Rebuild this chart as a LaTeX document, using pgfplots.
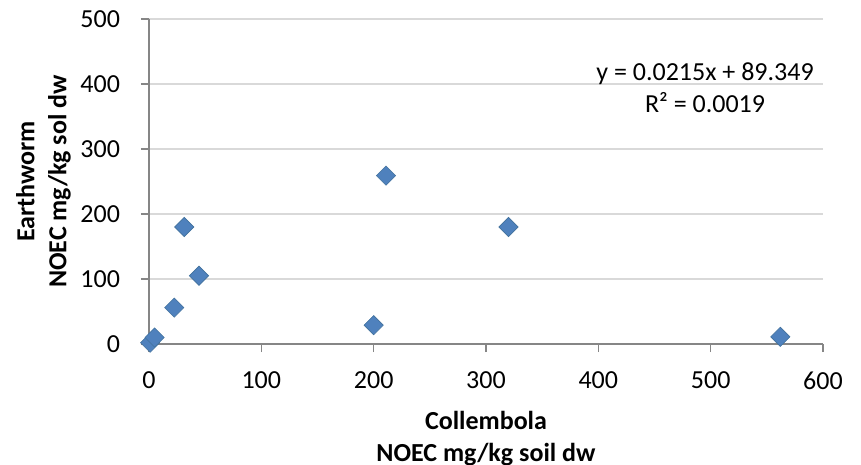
\documentclass[border=0pt]{standalone}
\usepackage{pgfplots}
\pgfplotsset{compat=1.18}
\usepackage{fontspec}
\setmainfont{Carlito}
\definecolor{mk}{HTML}{4F81BD}
\definecolor{mkedge}{HTML}{41719C}
\definecolor{gridc}{HTML}{D9D9D9}
\definecolor{axc}{HTML}{868686}
\begin{document}
\begin{tikzpicture}
\useasboundingbox (-74.5pt,-60.5pt) rectangle (356pt,172pt);
\begin{axis}[
  at={(0,0)}, anchor=south west,
  scale only axis,
  width=337pt, height=162.5pt,
  xmin=0, xmax=600, ymin=0, ymax=500,
  xtick={0,100,...,600}, ytick={0,100,...,500},
  axis x line*=bottom, axis y line*=left,
  axis line style={axc, line width=0.8pt},
  tick style={axc, line width=0.8pt},
  tick align=outside, major tick length=4pt,
  ymajorgrids, grid style={gridc, line width=0.8pt},
  tick label style={font=\fontsize{13}{16}\selectfont},
  xticklabel style={yshift=-6.5pt},
  yticklabel style={xshift=-7pt},
  /pgf/number format/assume math mode=true,
  xlabel={Collembola\\NOEC mg/kg soil dw},
  ylabel={Earthworm\\NOEC mg/kg sol dw},
  label style={font=\bfseries\fontsize{13}{16}\selectfont, align=center},
  xlabel style={at={(axis description cs:0.5,-0.29)}, anchor=center},
  ylabel style={at={(axis description cs:-0.1565,0.5)}, anchor=center},
  clip=false,
]
\addplot[only marks, mark=square*, mark size=3.4pt,
  mark options={rotate=45, fill=mk, draw=mkedge, line width=0.3pt}]
  coordinates {
  (1,2) (5,10) (22.5,56) (31.4,180) (44.5,105)
  (200,29) (211,259) (320,180) (562,11)
  };
\node[align=center, font=\fontsize{13}{16}\selectfont] at (axis cs:495,395)
  {y = 0.0215x + 89.349\\R² = 0.0019};
\end{axis}
\end{tikzpicture}
\end{document}
